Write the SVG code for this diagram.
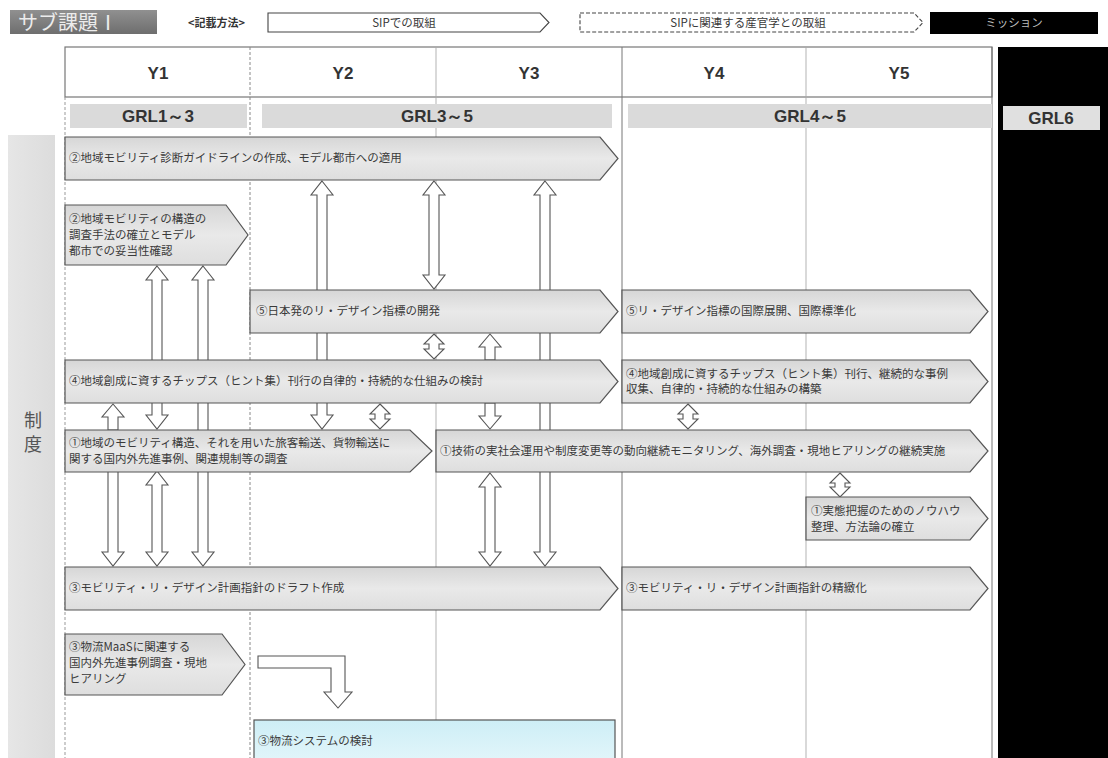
<svg xmlns="http://www.w3.org/2000/svg" width="1108" height="758" viewBox="0 0 1108 758">
<defs>
<linearGradient id="barG" x1="0" y1="0" x2="0" y2="1">
<stop offset="0" stop-color="#d6d6d6"/>
<stop offset="0.5" stop-color="#e9e9e9"/>
<stop offset="1" stop-color="#dedede"/>
</linearGradient>
<linearGradient id="blueG" x1="0" y1="0" x2="0" y2="1">
<stop offset="0" stop-color="#cdeef6"/>
<stop offset="1" stop-color="#e6f7fb"/>
</linearGradient>
<linearGradient id="subG" x1="0" y1="0" x2="0" y2="1">
<stop offset="0" stop-color="#909090"/>
<stop offset="1" stop-color="#6e6e6e"/>
</linearGradient>
<linearGradient id="sideG" x1="0" y1="0" x2="1" y2="0">
<stop offset="0" stop-color="#e6e6e6"/>
<stop offset="1" stop-color="#dcdcdc"/>
</linearGradient>
</defs>
<style>
.bar{fill:url(#barG);stroke:#555;stroke-width:1.2}
.t{font-family:"Noto Sans CJK JP","Noto Sans",sans-serif;font-size:11.5px;fill:#3a3a3a}
.hd{font-family:"Liberation Sans","Noto Sans",sans-serif;font-size:17px;font-weight:bold;fill:#333;text-anchor:middle}
.ar{fill:#fff;stroke:#555;stroke-width:1.1}
.grl{fill:#dadada}
</style>
<rect width="1108" height="758" fill="#fff"/>

<g id="header">
<rect x="10" y="10" width="147" height="24" fill="url(#subG)"/>
<text x="18" y="30" font-family="'Noto Sans CJK JP',sans-serif" font-size="20" fill="#ececec">サブ課題Ⅰ</text>
<text x="188" y="27" font-family="'Noto Sans CJK JP',sans-serif" font-size="11" font-weight="bold" fill="#333">&lt;記載方法&gt;</text>
<path d="M268,13 L540,13 L549,22.5 L540,32 L268,32 Z" fill="#fff" stroke="#444" stroke-width="1.1"/>
<text x="404" y="27" class="t" text-anchor="middle" font-size="11">SIPでの取組</text>
<path d="M580,13 L914,13 L923,22.5 L914,32 L580,32 Z" fill="#fff" stroke="#444" stroke-width="1.1" stroke-dasharray="4,2"/>
<text x="748" y="27" class="t" text-anchor="middle" font-size="11">SIPに関連する産官学との取組</text>
<rect x="930" y="12" width="168" height="22" fill="#000"/>
<text x="1014" y="27" class="t" text-anchor="middle" font-size="11" style="fill:#bbb">ミッション</text>
</g>

<g id="grid">
<rect x="8" y="135" width="47" height="623" fill="url(#sideG)"/>
<text font-family="'Noto Sans CJK JP',sans-serif" font-size="18" fill="#555" text-anchor="middle"><tspan x="33" y="427">制</tspan><tspan x="33" y="451">度</tspan></text>
<rect x="998" y="47" width="110" height="711" fill="#000"/>
<rect x="65" y="47" width="927" height="50" fill="#fff" stroke="#777" stroke-width="1.2"/>
<line x1="65" y1="97" x2="65" y2="758" stroke="#999" stroke-dasharray="3,2"/>
<line x1="250" y1="47" x2="250" y2="758" stroke="#888" stroke-dasharray="3,2"/>
<line x1="436" y1="47" x2="436" y2="758" stroke="#aaa" stroke-width="0.9"/>
<line x1="622" y1="47" x2="622" y2="758" stroke="#777" stroke-width="1"/>
<line x1="806" y1="47" x2="806" y2="758" stroke="#aaa" stroke-width="0.9"/>
<line x1="992" y1="47" x2="992" y2="758" stroke="#777" stroke-width="1"/>
<text x="158" y="79" class="hd">Y1</text>
<text x="343" y="79" class="hd">Y2</text>
<text x="529" y="79" class="hd">Y3</text>
<text x="714" y="79" class="hd">Y4</text>
<text x="899" y="79" class="hd">Y5</text>
<rect x="70" y="104" width="177" height="24" class="grl"/>
<rect x="262" y="104" width="350" height="24" class="grl"/>
<rect x="628" y="104" width="364" height="24" class="grl"/>
<rect x="1003" y="106" width="97" height="24" fill="#e0e0e0"/>
<text x="158" y="122" class="hd">GRL1～3</text>
<text x="437" y="122" class="hd">GRL3～5</text>
<text x="810" y="122" class="hd">GRL4～5</text>
<text x="1051" y="124" class="hd">GRL6</text>
</g>

<g id="connectors">
<path class="ar" d="M322,181 L333,195 L327,195 L327,415 L333,415 L322,429 L311,415 L317,415 L317,195 L311,195 Z"/>
<path class="ar" d="M434,181 L445,195 L439,195 L439,275 L445,275 L434,289 L423,275 L429,275 L429,195 L423,195 Z"/>
<path class="ar" d="M545,181 L556,195 L550,195 L550,552 L556,552 L545,566 L534,552 L540,552 L540,195 L534,195 Z"/>
<path class="ar" d="M157,266 L168,280 L162,280 L162,415 L168,415 L157,429 L146,415 L152,415 L152,280 L146,280 Z"/>
<path class="ar" d="M203,266 L214,280 L208,280 L208,552 L214,552 L203,566 L192,552 L198,552 L198,280 L192,280 Z"/>
<path class="ar" d="M113,404 L124,417 L118,417 L118,430 L108,430 L108,417 L102,417 Z"/>
<path class="ar" d="M108,471 L118,471 L118,552 L124,552 L113,566 L102,552 L108,552 Z"/>
<path class="ar" d="M157,471 L168,485 L162,485 L162,552 L168,552 L157,566 L146,552 L152,552 L152,485 L146,485 Z"/>
<path class="ar" d="M434,334 L444,344 L439,344 L439,349 L444,349 L434,359 L424,349 L429,349 L429,344 L424,344 Z"/>
<path class="ar" d="M490,334 L501,347 L495,347 L495,360 L485,360 L485,347 L479,347 Z"/>
<path class="ar" d="M380,404 L390,414 L385,414 L385,419 L390,419 L380,429 L370,419 L375,419 L375,414 L370,414 Z"/>
<path class="ar" d="M485,403 L495,403 L495,416 L501,416 L490,429 L479,416 L485,416 Z"/>
<path class="ar" d="M688,404 L698,414 L693,414 L693,419 L698,419 L688,429 L678,419 L683,419 L683,414 L678,414 Z"/>
<path class="ar" d="M490,473 L501,487 L495,487 L495,552 L501,552 L490,566 L479,552 L485,552 L485,487 L479,487 Z"/>
<path class="ar" d="M840,473 L850,483 L845,483 L845,487 L850,487 L840,497 L830,487 L835,487 L835,483 L830,483 Z"/>
<path class="ar" d="M258,656 L345,656 L345,692 L352,692 L338,708 L324,692 L331,692 L331,668 L258,668 Z"/>
</g>

<g id="b1"><path class="bar" d="M65,137 L600,137 L618,158.5 L600,180 L65,180 Z"/><text class="t" x="69" y="162">②地域モビリティ診断ガイドラインの作成、モデル都市への適用</text></g>
<g id="b2"><path class="bar" d="M65,205 L226,205 L248,235 L226,265 L65,265 Z"/>
<text class="t" x="69" y="223">②地域モビリティの構造の</text><text class="t" x="69" y="239">調査手法の確立とモデル</text><text class="t" x="69" y="255">都市での妥当性確認</text></g>
<g id="b3"><path class="bar" d="M250,290 L600,290 L618,311.5 L600,333 L250,333 Z"/><text class="t" x="256" y="315">⑤日本発のリ・デザイン指標の開発</text></g>
<g id="b4"><path class="bar" d="M622,290 L970,290 L988,311.5 L970,333 L622,333 Z"/><text class="t" x="626" y="315">⑤リ・デザイン指標の国際展開、国際標準化</text></g>
<g id="b5"><path class="bar" d="M65,360 L600,360 L618,381.5 L600,403 L65,403 Z"/><text class="t" x="69" y="385">④地域創成に資するチップス（ヒント集）刊行の自律的・持続的な仕組みの検討</text></g>
<g id="b6"><path class="bar" d="M622,360 L970,360 L988,381.5 L970,403 L622,403 Z"/>
<text class="t" x="626" y="378">④地域創成に資するチップス（ヒント集）刊行、継続的な事例</text><text class="t" x="626" y="393">収集、自律的・持続的な仕組みの構築</text></g>
<g id="b7"><path class="bar" d="M65,430 L410,430 L432,451 L410,472 L65,472 Z"/>
<text class="t" x="69" y="447">①地域のモビリティ構造、それを用いた旅客輸送、貨物輸送に</text><text class="t" x="69" y="463">関する国内外先進事例、関連規制等の調査</text></g>
<g id="b8"><path class="bar" d="M436,430 L970,430 L988,451 L970,472 L436,472 Z"/><text class="t" x="440" y="455">①技術の実社会運用や制度変更等の動向継続モニタリング、海外調査・現地ヒアリングの継続実施</text></g>
<g id="b9"><path class="bar" d="M806,497 L970,497 L988,518.5 L970,540 L806,540 Z"/>
<text class="t" x="811" y="515">①実態把握のためのノウハウ</text><text class="t" x="811" y="531">整理、方法論の確立</text></g>
<g id="b10"><path class="bar" d="M65,567 L600,567 L618,588.5 L600,610 L65,610 Z"/><text class="t" x="69" y="592">③モビリティ・リ・デザイン計画指針のドラフト作成</text></g>
<g id="b11"><path class="bar" d="M622,567 L970,567 L988,588.5 L970,610 L622,610 Z"/><text class="t" x="626" y="592">③モビリティ・リ・デザイン計画指針の精緻化</text></g>
<g id="b12"><path class="bar" d="M65,634 L222,634 L245,664.5 L222,695 L65,695 Z"/>
<text class="t" x="69" y="651">③物流MaaSに関連する</text><text class="t" x="69" y="667">国内外先進事例調査・現地</text><text class="t" x="69" y="683">ヒアリング</text></g>
<g id="b13"><rect x="254" y="720" width="361" height="50" fill="url(#blueG)" stroke="#555" stroke-width="1.2"/><text class="t" x="258" y="745">③物流システムの検討</text></g>
</svg>
